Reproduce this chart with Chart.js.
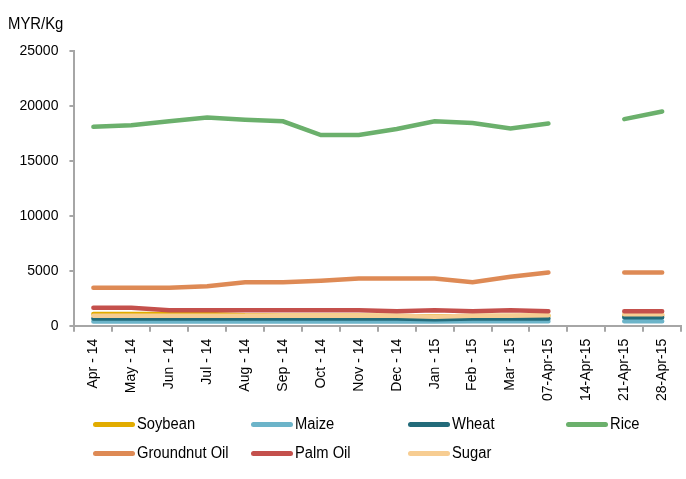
<!DOCTYPE html>
<html>
<head>
<meta charset="utf-8">
<script src="https://cdn.jsdelivr.net/npm/chart.js@4.4.0/dist/chart.umd.min.js"></script>
<style>
  html, body { margin: 0; padding: 0; background: #fff; }
  #wrap { position: relative; width: 686px; height: 479px; font-family: 'Liberation Sans', Arial, sans-serif; }
  #unit { position: absolute; left: 8px; top: 15px; font-size: 16px; line-height: 18px; color: #000;
          transform: scaleX(0.93); transform-origin: left center; }
  #legend { position: absolute; left: 93px; top: 0; width: 600px; }
  .item { position: absolute; display: flex; align-items: center; height: 20px; font-size: 16px; color: #000; }
  .swatch { width: 42px; height: 5px; border-radius: 3px; margin-right: 2px; flex: none; }
  .item span { display: inline-block; transform: scaleX(0.92); transform-origin: left center; white-space: nowrap; }
</style>
</head>
<body>
<div id="wrap">
  <canvas id="chart-food" width="686" height="479"></canvas>
  <div id="unit">MYR/Kg</div>
  <div id="legend"></div>
</div>
<script>
// PRICES - MYR/Kg
const labels = ['Apr - 14', 'May - 14', 'Jun - 14', 'Jul - 14', 'Aug - 14', 'Sep - 14', 'Oct - 14', 'Nov - 14',
    'Dec - 14', 'Jan - 15', 'Feb - 15', 'Mar - 15', '07-Apr-15', '14-Apr-15', '21-Apr-15', '28-Apr-15'];

const soybean = [1080, 1080, 1080, 1080, 950, 900, 900, 900, 880, 850, 880, 880, 900, null, 950, 950];
const maize = [380, 380, 380, 380, 380, 380, 380, 380, 380, 380, 400, 400, 400, null, 420, 420];
const wheat = [650, 650, 650, 650, 650, 650, 650, 650, 650, 600, 650, 650, 650, null, 780, 780];
const rice = [18100, 18250, 18600, 18950, 18750, 18600, 17350, 17350, 17900, 18600, 18450, 17950, 18400, null, 18800, 19500];
const groundnut = [3450, 3450, 3450, 3600, 3950, 3950, 4100, 4300, 4300, 4300, 3950, 4450, 4850, null, 4850, 4850];
const palm = [1640, 1640, 1420, 1420, 1420, 1420, 1420, 1420, 1320, 1420, 1320, 1420, 1320, null, 1320, 1320];
const sugar = [900, 900, 900, 900, 900, 900, 900, 900, 900, 820, 900, 900, 950, null, 1050, 1050];

const yTicks = [0, 5000, 10000, 15000, 20000, 25000];

const axisGrey = '#a6a6a6';

function series(label, data, color, order) {
    return {
        label: label,
        data: data,
        borderColor: color,
        backgroundColor: color,
        borderWidth: 4.5,
        pointRadius: 0,
        tension: 0,
        spanGaps: false,
        borderCapStyle: 'round',
        order: order
    };
}

const foodCot = document.getElementById('chart-food');

let foodChart = new Chart(foodCot, {
    type: 'line',
    data: {
        labels: labels,
        datasets: [
            series('Soybean', soybean, '#e2ac00', 6),
            series('Maize', maize, '#6cb4c9', 7),
            series('Wheat', wheat, '#226b7a', 5),
            series('Rice', rice, '#6bb06c', 1),
            series('Groundnut Oil', groundnut, '#de8a55', 2),
            series('Palm Oil', palm, '#c4504c', 3),
            series('Sugar', sugar, '#f7cd92', 4)
        ]
    },
    options: {
        responsive: false,
        animation: false,
        layout: {
            padding: { top: 51, right: 1, bottom: 71, left: 8.5 }
        },
        scales: {
            x: {
                offset: true,
                grid: {
                    offset: true,
                    drawOnChartArea: false,
                    drawTicks: true,
                    tickLength: 6,
                    color: axisGrey,
                    lineWidth: 2
                },
                border: { color: axisGrey, width: 2 },
                ticks: {
                    autoSkip: false,
                    minRotation: 90,
                    maxRotation: 90,
                    padding: 7,
                    color: '#000',
                    font: { family: "'Liberation Sans', Arial, sans-serif", size: 14 }
                }
            },
            y: {
                min: 0,
                max: 25000,
                afterBuildTicks: function (axis) {
                    axis.ticks = yTicks.map(v => ({ value: v }));
                },
                grid: {
                    drawOnChartArea: false,
                    drawTicks: true,
                    tickLength: 5,
                    color: axisGrey,
                    lineWidth: 2
                },
                border: { color: axisGrey, width: 2 },
                ticks: {
                    padding: 11,
                    color: '#000',
                    font: { family: "'Liberation Sans', Arial, sans-serif", size: 14 },
                    callback: v => String(v)
                }
            }
        },
        plugins: {
            legend: { display: false },
            tooltip: { enabled: false }
        }
    }
});

// LEGEND - 4 columns
const legendBox = document.getElementById('legend');
const colX = [0, 158, 315, 473];
const rowY = [414, 443];
foodChart.data.datasets.forEach(function (ds, i) {
    const item = document.createElement('div');
    item.className = 'item';
    item.style.left = colX[i % 4] + 'px';
    item.style.top = rowY[Math.floor(i / 4)] + 'px';
    const sw = document.createElement('div');
    sw.className = 'swatch';
    sw.style.background = ds.borderColor;
    const tx = document.createElement('span');
    tx.textContent = ds.label;
    item.appendChild(sw);
    item.appendChild(tx);
    legendBox.appendChild(item);
});
</script>
</body>
</html>
